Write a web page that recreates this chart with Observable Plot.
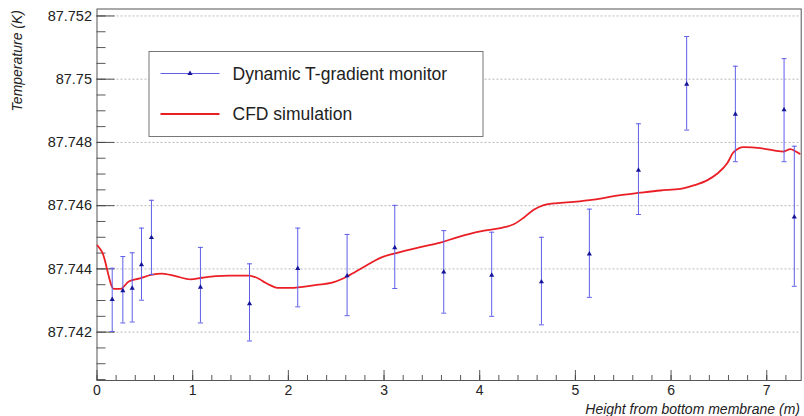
<!DOCTYPE html>
<html><head><meta charset="utf-8">
<script src="https://cdn.jsdelivr.net/npm/d3@7"></script>
<script src="https://cdn.jsdelivr.net/npm/@observablehq/plot@0.6"></script>
<style>
html,body{margin:0;padding:0;background:#fff;}
#wrap{position:relative;width:804px;height:416px;overflow:hidden;font-family:"Liberation Sans",Arial,Helvetica,sans-serif;}
#wrap > svg{display:block;}
#overlay{position:absolute;left:0;top:0;pointer-events:none;font-family:"Liberation Sans",Arial,Helvetica,sans-serif;}
</style></head><body><div id="wrap"></div>
<script>
// Measured data: Dynamic T-gradient monitor
const monitorX = [0.159,0.27,0.368,0.465,0.569,1.081,1.594,2.098,2.614,3.112,3.624,4.125,4.645,5.146,5.659,6.163,6.672,7.181,7.288];
const monitorT = [87.74303,87.74331,87.74339,87.74413,87.74499,87.74342,87.74290,87.74401,87.74378,87.74467,87.74390,87.74380,87.74359,87.74447,87.74712,87.74984,87.74889,87.74903,87.74564];
const monitorLow = [87.74202,87.74229,87.74232,87.74301,87.74382,87.74229,87.74172,87.74280,87.74252,87.74338,87.74260,87.74250,87.74223,87.74310,87.74572,87.74839,87.74739,87.74739,87.74345];
const monitorHigh = [87.74402,87.74439,87.74451,87.74529,87.74617,87.74468,87.74416,87.74529,87.74509,87.74601,87.74521,87.74516,87.74500,87.74589,87.74859,87.75135,87.75041,87.75065,87.74788];

// CFD simulation curve
const cfdX = [0.005,0.054,0.176,0.246,0.332,0.437,0.577,0.681,0.820,0.977,1.099,1.238,1.377,1.586,1.691,1.761,1.813,1.883,2.022,2.265,2.474,2.614,2.788,2.962,3.137,3.380,3.589,3.764,4.007,4.216,4.355,4.460,4.564,4.669,4.809,4.982,5.191,5.436,5.679,5.888,6.097,6.236,6.376,6.481,6.585,6.654,6.759,6.933,7.072,7.177,7.247,7.299,7.344];
const cfdT = [87.74474,87.74453,87.74337,87.74337,87.74360,87.74369,87.74382,87.74385,87.74377,87.74367,87.74372,87.74377,87.74379,87.74379,87.74369,87.74356,87.74348,87.74340,87.74340,87.74348,87.74358,87.74376,87.74406,87.74435,87.74451,87.74469,87.74483,87.74500,87.74519,87.74529,87.74541,87.74562,87.74587,87.74602,87.74608,87.74612,87.74619,87.74632,87.74641,87.74648,87.74653,87.74664,87.74680,87.74701,87.74733,87.74769,87.74785,87.74782,87.74775,87.74771,87.74779,87.74772,87.74764];

// Axes
const xDomain = [0, 7.36];
const yDomain = [87.74047, 87.75222];
const xTickLabels = [0,1,2,3,4,5,6,7];
const yTickLabels = [87.742,87.744,87.746,87.748,87.75,87.752];
const xTitle = "Height from bottom membrane (m)";
const yTitle = "Temperature (K)";
const seriesNames = ["Dynamic T-gradient monitor", "CFD simulation"];

const W = 804, H = 416, mL = 96.5, mR = 3.3, mT = 8.5, mB = 36;
const kx = (W - mL - mR) / (xDomain[1] - xDomain[0]);
const ky = (H - mT - mB) / (yDomain[1] - yDomain[0]);

const monitor = monitorX.map((x, i) => ({x, t: monitorT[i], lo: monitorLow[i], hi: monitorHigh[i]}));
const cfd = cfdX.map((x, i) => ({x, t: cfdT[i]}));

const xMinor = d3.range(0, 73).map(i => i * 0.2).filter(v => v <= xDomain[1]);
const yMinor = d3.range(0, 24).map(i => 87.7405 + i * 0.0005).filter(v => v >= yDomain[0] && v <= yDomain[1]);

const capSymbol = {draw(ctx, size) { const w = 2.5; ctx.moveTo(-w, 0); ctx.lineTo(w, 0); }};

const errColor = "#5f5fe8", markColor = "#14149a", redColor = "#ea1f26";

const plot = Plot.plot({
  width: W, height: H,
  marginLeft: mL, marginRight: mR, marginTop: mT, marginBottom: mB,
  style: {fontFamily: '"Liberation Sans", Arial, Helvetica, sans-serif', fontSize: "14px", color: "#222", background: "#fff"},
  x: {domain: xDomain, axis: null, label: null},
  y: {domain: yDomain, axis: null, label: null},
  marks: [
    Plot.ruleY(yTickLabels, {y: d => d, stroke: "#b8b8b8", strokeDasharray: "2,2", strokeWidth: 1}),
    // inward y ticks
    Plot.ruleY(yMinor, {y: d => d, x1: xDomain[0], x2: xDomain[0] + 9 / kx, stroke: "#444", strokeWidth: 0.9}),
    Plot.ruleY(yTickLabels, {y: d => d, x1: xDomain[0], x2: xDomain[0] + 18 / kx, stroke: "#444", strokeWidth: 0.9}),
    // inward x ticks
    Plot.ruleX(xMinor, {x: d => d, y1: yDomain[0], y2: yDomain[0] + 5 / ky, stroke: "#444", strokeWidth: 0.9}),
    Plot.ruleX(xTickLabels, {x: d => d, y1: yDomain[0], y2: yDomain[0] + 10 / ky, stroke: "#444", strokeWidth: 0.9}),
    Plot.axisY(yTickLabels, {anchor: "left", label: null, tickSize: 0, tickPadding: 5, tickFormat: d => String(+d.toFixed(3)), fontSize: 14.5, fill: "#222"}),
    Plot.axisX(xTickLabels, {anchor: "bottom", label: null, tickSize: 0, tickPadding: 5, tickFormat: d => String(d), fontSize: 14, fill: "#222"}),
    Plot.frame({stroke: "#555", strokeWidth: 1}),
    // CFD curve
    Plot.line(cfd, {x: "x", y: "t", stroke: redColor, strokeWidth: 1.8, curve: "monotone-x"}),
    // error bars
    Plot.ruleX(monitor, {x: "x", y1: "lo", y2: "hi", stroke: errColor, strokeWidth: 1}),
    Plot.dot(monitor, {x: "x", y: "lo", symbol: capSymbol, stroke: errColor, strokeWidth: 1, r: 2}),
    Plot.dot(monitor, {x: "x", y: "hi", symbol: capSymbol, stroke: errColor, strokeWidth: 1, r: 2}),
    Plot.dot(monitor, {x: "x", y: "t", symbol: "triangle", fill: markColor, stroke: "none", r: 1.9})
  ]
});

const wrap = document.getElementById("wrap");
wrap.appendChild(plot);

// Titles and legend overlay
const ov = d3.select(wrap).append("svg").attr("id", "overlay").attr("width", W).attr("height", H);
ov.append("text").attr("transform", "translate(22,10) rotate(-90)").attr("text-anchor", "end")
  .attr("font-style", "italic").attr("font-size", 14).attr("fill", "#222").text(yTitle);
ov.append("text").attr("x", 800).attr("y", 413.5).attr("text-anchor", "end")
  .attr("font-style", "italic").attr("font-size", 14).attr("fill", "#222").text(xTitle);

const lg = ov.append("g").attr("transform", "translate(149,51.5)");
lg.append("rect").attr("width", 334).attr("height", 85).attr("fill", "#fff").attr("stroke", "#777").attr("stroke-width", 1);
lg.append("line").attr("x1", 11.5).attr("x2", 70.5).attr("y1", 22).attr("y2", 22).attr("stroke", errColor).attr("stroke-width", 1);
lg.append("path").attr("transform", "translate(41,22)").attr("d", d3.symbol(d3.symbolTriangle, 1.9 * 1.9 * Math.PI)()).attr("fill", markColor);
lg.append("text").attr("x", 83.5).attr("y", 22).attr("dy", "0.35em").attr("font-size", 17.5).attr("fill", "#222").text(seriesNames[0]);
lg.append("line").attr("x1", 11.5).attr("x2", 70.5).attr("y1", 62.5).attr("y2", 62.5).attr("stroke", redColor).attr("stroke-width", 1.8);
lg.append("text").attr("x", 83.5).attr("y", 62.5).attr("dy", "0.35em").attr("font-size", 17.5).attr("fill", "#222").text(seriesNames[1]);
</script>
</body></html>
